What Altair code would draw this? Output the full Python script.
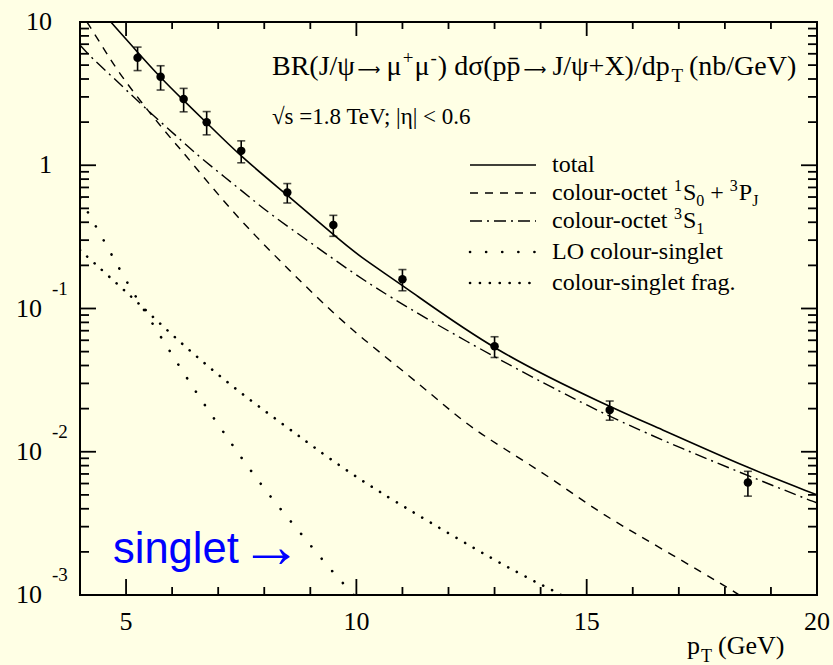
import altair as alt
import pandas as pd

# ---------------- data ----------------
pt_cdf = [5.25, 5.75, 6.25, 6.75, 7.5, 8.5, 9.5, 11.0, 13.0, 15.5, 18.5]
sig_cdf = [5.63, 4.15, 2.90, 2.00, 1.26, 0.645, 0.383, 0.160, 0.0545, 0.0196, 0.0061]
err_cdf = [1.05, 0.80, 0.54, 0.37, 0.22, 0.10, 0.064, 0.027, 0.009, 0.003, 0.0012]

total_pt = [4.67, 5.24, 5.73, 6.24, 6.73, 7.49, 8.5, 9.49, 10.07, 11.0, 13.0, 15.5, 16.57, 18.49, 20.0]
total_val = [10.0, 6.2, 4.15, 2.85, 2.01, 1.15, 0.62, 0.33, 0.23, 0.146, 0.050, 0.0206, 0.0146, 0.0077, 0.0050]

octA_pt = [4.15, 4.40, 4.84, 5.5, 6.04, 6.18, 7.09, 7.82, 8.54, 9.27, 10.07, 11.45, 12.35, 13.19, 14.28, 15.3, 16.75, 18.27, 18.4]
octA_val = [10.0, 7.5, 4.4, 2.35, 1.45, 1.3, 0.572, 0.317, 0.186, 0.109, 0.0636, 0.0284, 0.0158, 0.0106, 0.0064, 0.0037, 0.0020, 0.00103, 0.00095]

octB_pt = [4.0, 4.26, 4.64, 5.38, 6.15, 6.51, 6.95, 7.31, 7.74, 8.11, 8.98, 9.78, 10.65, 12.39, 14.21, 15.15, 15.59, 17.0, 18.93, 19.87, 20.0]
octB_val = [6.9, 5.58, 4.34, 2.56, 1.54, 1.21, 0.926, 0.748, 0.578, 0.462, 0.292, 0.191, 0.124, 0.0586, 0.0284, 0.0201, 0.0171, 0.0107, 0.0060, 0.00455, 0.0044]

lo_pt = [4.0, 4.34, 4.67, 5.0, 5.37, 5.72, 6.45, 7.03, 7.42, 7.82, 8.24, 8.68, 9.11, 9.55, 9.89, 10.0]
lo_val = [0.588, 0.377, 0.243, 0.156, 0.100, 0.066, 0.028, 0.0150, 0.0099, 0.0066, 0.0044, 0.00298, 0.00202, 0.00137, 0.00105, 0.00095]

frag_pt = [4.0, 4.64, 5.27, 6.05, 6.86, 7.69, 8.55, 9.07, 9.76, 10.48, 11.22, 12.68, 13.8, 14.39, 14.6]
frag_val = [0.256, 0.166, 0.109, 0.063, 0.0374, 0.0229, 0.0144, 0.0108, 0.0075, 0.0053, 0.0038, 0.0020, 0.00127, 0.00103, 0.00093]

x_major = [5, 10, 15, 20]
x_minor = [4, 6, 7, 8, 9, 11, 12, 13, 14, 16, 17, 18, 19]
y_major = [0.001, 0.01, 0.1, 1, 10]
y_minor = [k * 10.0 ** e for e in (-3, -2, -1, 0) for k in range(2, 10)]
y_label_plain = {10: "10", 1: "1"}
y_label_exp = {0.1: "-1", 0.01: "-2", 0.001: "-3"}

# ---------------- layout / style ----------------
W, H = 737, 573
SERIF = "Liberation Serif"
SANS = "Liberation Sans"
ARROWFONT = "DejaVu Sans"
BG = "#FFFFE5"

xs = alt.Scale(domain=[4, 20], nice=False, zero=False)
ys = alt.Scale(type="log", domain=[0.001, 10], nice=False)
ONE = pd.DataFrame({"a": [0]})

layers = []


def curve(pt, val, **kw):
    df = pd.DataFrame({"pt": pt, "v": val})
    return alt.Chart(df).mark_line(clip=True, color="black", interpolate="basis", **kw).encode(
        x=alt.X("pt:Q", scale=xs, axis=None),
        y=alt.Y("v:Q", scale=ys, axis=None),
        order="pt:Q",
    )


layers.append(curve(total_pt, total_val, strokeWidth=1.6))
layers.append(curve(octA_pt, octA_val, strokeWidth=1.4, strokeDash=[8, 7]))
layers.append(curve(octB_pt, octB_val, strokeWidth=1.4, strokeDash=[12, 5, 2, 5]))
layers.append(curve(lo_pt, lo_val, strokeWidth=2.6, strokeDash=[0.1, 16], strokeCap="round"))
layers.append(curve(frag_pt, frag_val, strokeWidth=2.6, strokeDash=[0.1, 9.8], strokeCap="round"))

# data points with error bars
dpts = pd.DataFrame({"pt": pt_cdf, "v": sig_cdf,
                     "lo": [a - b for a, b in zip(sig_cdf, err_cdf)],
                     "hi": [a + b for a, b in zip(sig_cdf, err_cdf)]})
layers.append(alt.Chart(dpts).mark_rule(color="black", strokeWidth=1.6).encode(
    x=alt.X("pt:Q", scale=xs, axis=None), y=alt.Y("lo:Q", scale=ys, axis=None), y2="hi:Q"))
for col in ("lo", "hi"):
    layers.append(alt.Chart(dpts).mark_tick(color="black", orient="horizontal", size=8, thickness=1.6).encode(
        x=alt.X("pt:Q", scale=xs, axis=None), y=alt.Y(f"{col}:Q", scale=ys, axis=None)))
layers.append(alt.Chart(dpts).mark_circle(color="black", opacity=1, size=72).encode(
    x=alt.X("pt:Q", scale=xs, axis=None), y=alt.Y("v:Q", scale=ys, axis=None)))


# inward ticks on all four sides
def yticks(vals, x0, x1):
    return alt.Chart(pd.DataFrame({"v": vals})).mark_rule(color="black", strokeWidth=1.8).encode(
        y=alt.Y("v:Q", scale=ys, axis=None), x=alt.value(x0), x2=alt.value(x1))


def xticks(vals, y0, y1):
    return alt.Chart(pd.DataFrame({"v": vals})).mark_rule(color="black", strokeWidth=1.8).encode(
        x=alt.X("v:Q", scale=xs, axis=None), y=alt.value(y0), y2=alt.value(y1))


layers += [yticks(y_major, 0, 16), yticks(y_minor, 0, 9),
           yticks(y_major, W, W - 16), yticks(y_minor, W, W - 9),
           xticks(x_major, H, H - 16), xticks(x_minor, H, H - 8),
           xticks(x_major, 0, 14), xticks(x_minor, 0, 7)]

# axis labels
layers.append(alt.Chart(pd.DataFrame({"v": list(y_label_plain), "t": list(y_label_plain.values())}))
              .mark_text(font=SERIF, fontSize=26, align="right", baseline="middle", color="black")
              .encode(y=alt.Y("v:Q", scale=ys, axis=None), x=alt.value(-28), text="t:N"))
exp_df = pd.DataFrame({"v": list(y_label_exp), "t": list(y_label_exp.values())})
layers.append(alt.Chart(exp_df).mark_text(font=SERIF, fontSize=26, align="right", baseline="middle",
                                          color="black", text="10")
              .encode(y=alt.Y("v:Q", scale=ys, axis=None), x=alt.value(-38)))
layers.append(alt.Chart(exp_df).mark_text(font=SERIF, fontSize=19, align="left", baseline="middle",
                                          color="black", dy=-20)
              .encode(y=alt.Y("v:Q", scale=ys, axis=None), x=alt.value(-28), text="t:N"))
layers.append(alt.Chart(pd.DataFrame({"v": x_major, "t": [str(v) for v in x_major]}))
              .mark_text(font=SERIF, fontSize=26, align="center", baseline="middle", color="black")
              .encode(x=alt.X("v:Q", scale=xs, axis=None), y=alt.value(H + 27), text="t:N"))

# free text pieces (pixel positions relative to plot origin)
WID = {' ': 250, '(': 333, ')': 333, '+': 564, '-': 333, '.': 250, '/': 278, ';': 278, '<': 564,
       '=': 564, 'B': 667, 'G': 722, 'J': 389, 'L': 611, 'O': 722, 'P': 556, 'R': 667, 'S': 556,
       'T': 611, 'V': 722, 'X': 722, 'a': 444, 'b': 500, 'c': 444, 'd': 500, 'e': 444, 'f': 333,
       'g': 500, 'i': 278, 'l': 278, 'n': 500, 'o': 500, 'p': 500, 'r': 333, 's': 389, 't': 278,
       'u': 500, '|': 200, 'ψ': 686, 'μ': 576, 'σ': 603, 'η': 603, '√': 549, '\u0304': 0}


def tw(s, size):
    return sum(WID.get(c, 500) for c in s) * size / 1000.0


def piece(t, x, y, size, font=SERIF, color="black", align="left"):
    return alt.Chart(ONE).mark_text(text=t, font=font, fontSize=size, color=color, align=align,
                                    baseline="alphabetic").encode(x=alt.value(x), y=alt.value(y))


def rich(parts, x, y, size, small):
    """parts: list of (text, kind) with kind in n / sup / sub / arrow"""
    out = []
    for t, kind in parts:
        if kind == "n":
            out.append(piece(t, x, y, size))
            x += tw(t, size)
        elif kind == "sup":
            out.append(piece(t, x, y - 0.38 * size, small))
            x += tw(t, small) + 1
        elif kind == "sub":
            out.append(piece(t, x, y + 0.25 * size, small))
            x += tw(t, small) + 6
        else:  # long arrow
            out.append(piece("⟶", x + 1, y, 16, font=ARROWFONT))
            x += 30
    return out


layers += rich([("BR(J/ψ", "n"), ("", "arrow"), ("μ", "n"), ("+", "sup"), ("μ", "n"), ("-", "sup"),
                (") dσ(pp\u0304", "n"), ("", "arrow"), ("J/ψ+X)/dp", "n"), ("T", "sub"),
                (" (nb/GeV)", "n")], 192, 53, 28, 19)
layers.append(piece("√s =1.8 TeV; |η| < 0.6", 192, 102, 23))

# legend
rows = [143, 171, 199, 230, 261]
styles = [dict(strokeWidth=1.6), dict(strokeWidth=1.4, strokeDash=[8, 7]),
          dict(strokeWidth=1.4, strokeDash=[12, 5, 2, 5]),
          dict(strokeWidth=2.6, strokeDash=[0.1, 16], strokeCap="round"),
          dict(strokeWidth=2.6, strokeDash=[0.1, 9.8], strokeCap="round")]
for ry, st in zip(rows, styles):
    layers.append(alt.Chart(ONE).mark_rule(color="black", **st).encode(
        x=alt.value(390), x2=alt.value(456), y=alt.value(ry)))
LX = 472
layers += rich([("total", "n")], LX, rows[0] + 7, 24, 16)
layers += rich([("colour-octet ", "n"), ("1", "sup"), ("S", "n"), ("0", "sub"), ("+ ", "n"),
                ("3", "sup"), ("P", "n"), ("J", "sub")], LX, rows[1] + 7, 24, 16)
layers += rich([("colour-octet ", "n"), ("3", "sup"), ("S", "n"), ("1", "sub")], LX, rows[2] + 7, 24, 16)
layers += rich([("LO colour-singlet", "n")], LX, rows[3] + 7, 24, 16)
layers += rich([("colour-singlet frag.", "n")], LX, rows[4] + 7, 24, 16)

# x-axis title
layers.append(piece("p", 607, 632, 26))
layers.append(piece("T", 621, 640, 18))
layers.append(piece("(GeV)", 638, 632, 26))

# blue annotation
layers.append(piece("singlet", 33, 541, 43.5, font=SANS, color="#0000FF"))
layers.append(piece("→", 160, 545, 62, font=SERIF, color="#0000FF"))

chart = alt.layer(*layers).properties(
    width=W, height=H,
    padding={"left": 80, "top": 22, "right": 16, "bottom": 70},
    autosize=alt.AutoSizeParams(type="none"),
    background=BG,
).configure_view(stroke="black", strokeWidth=2)

chart.save("out.html", embed_options={"renderer": "svg", "actions": False})
